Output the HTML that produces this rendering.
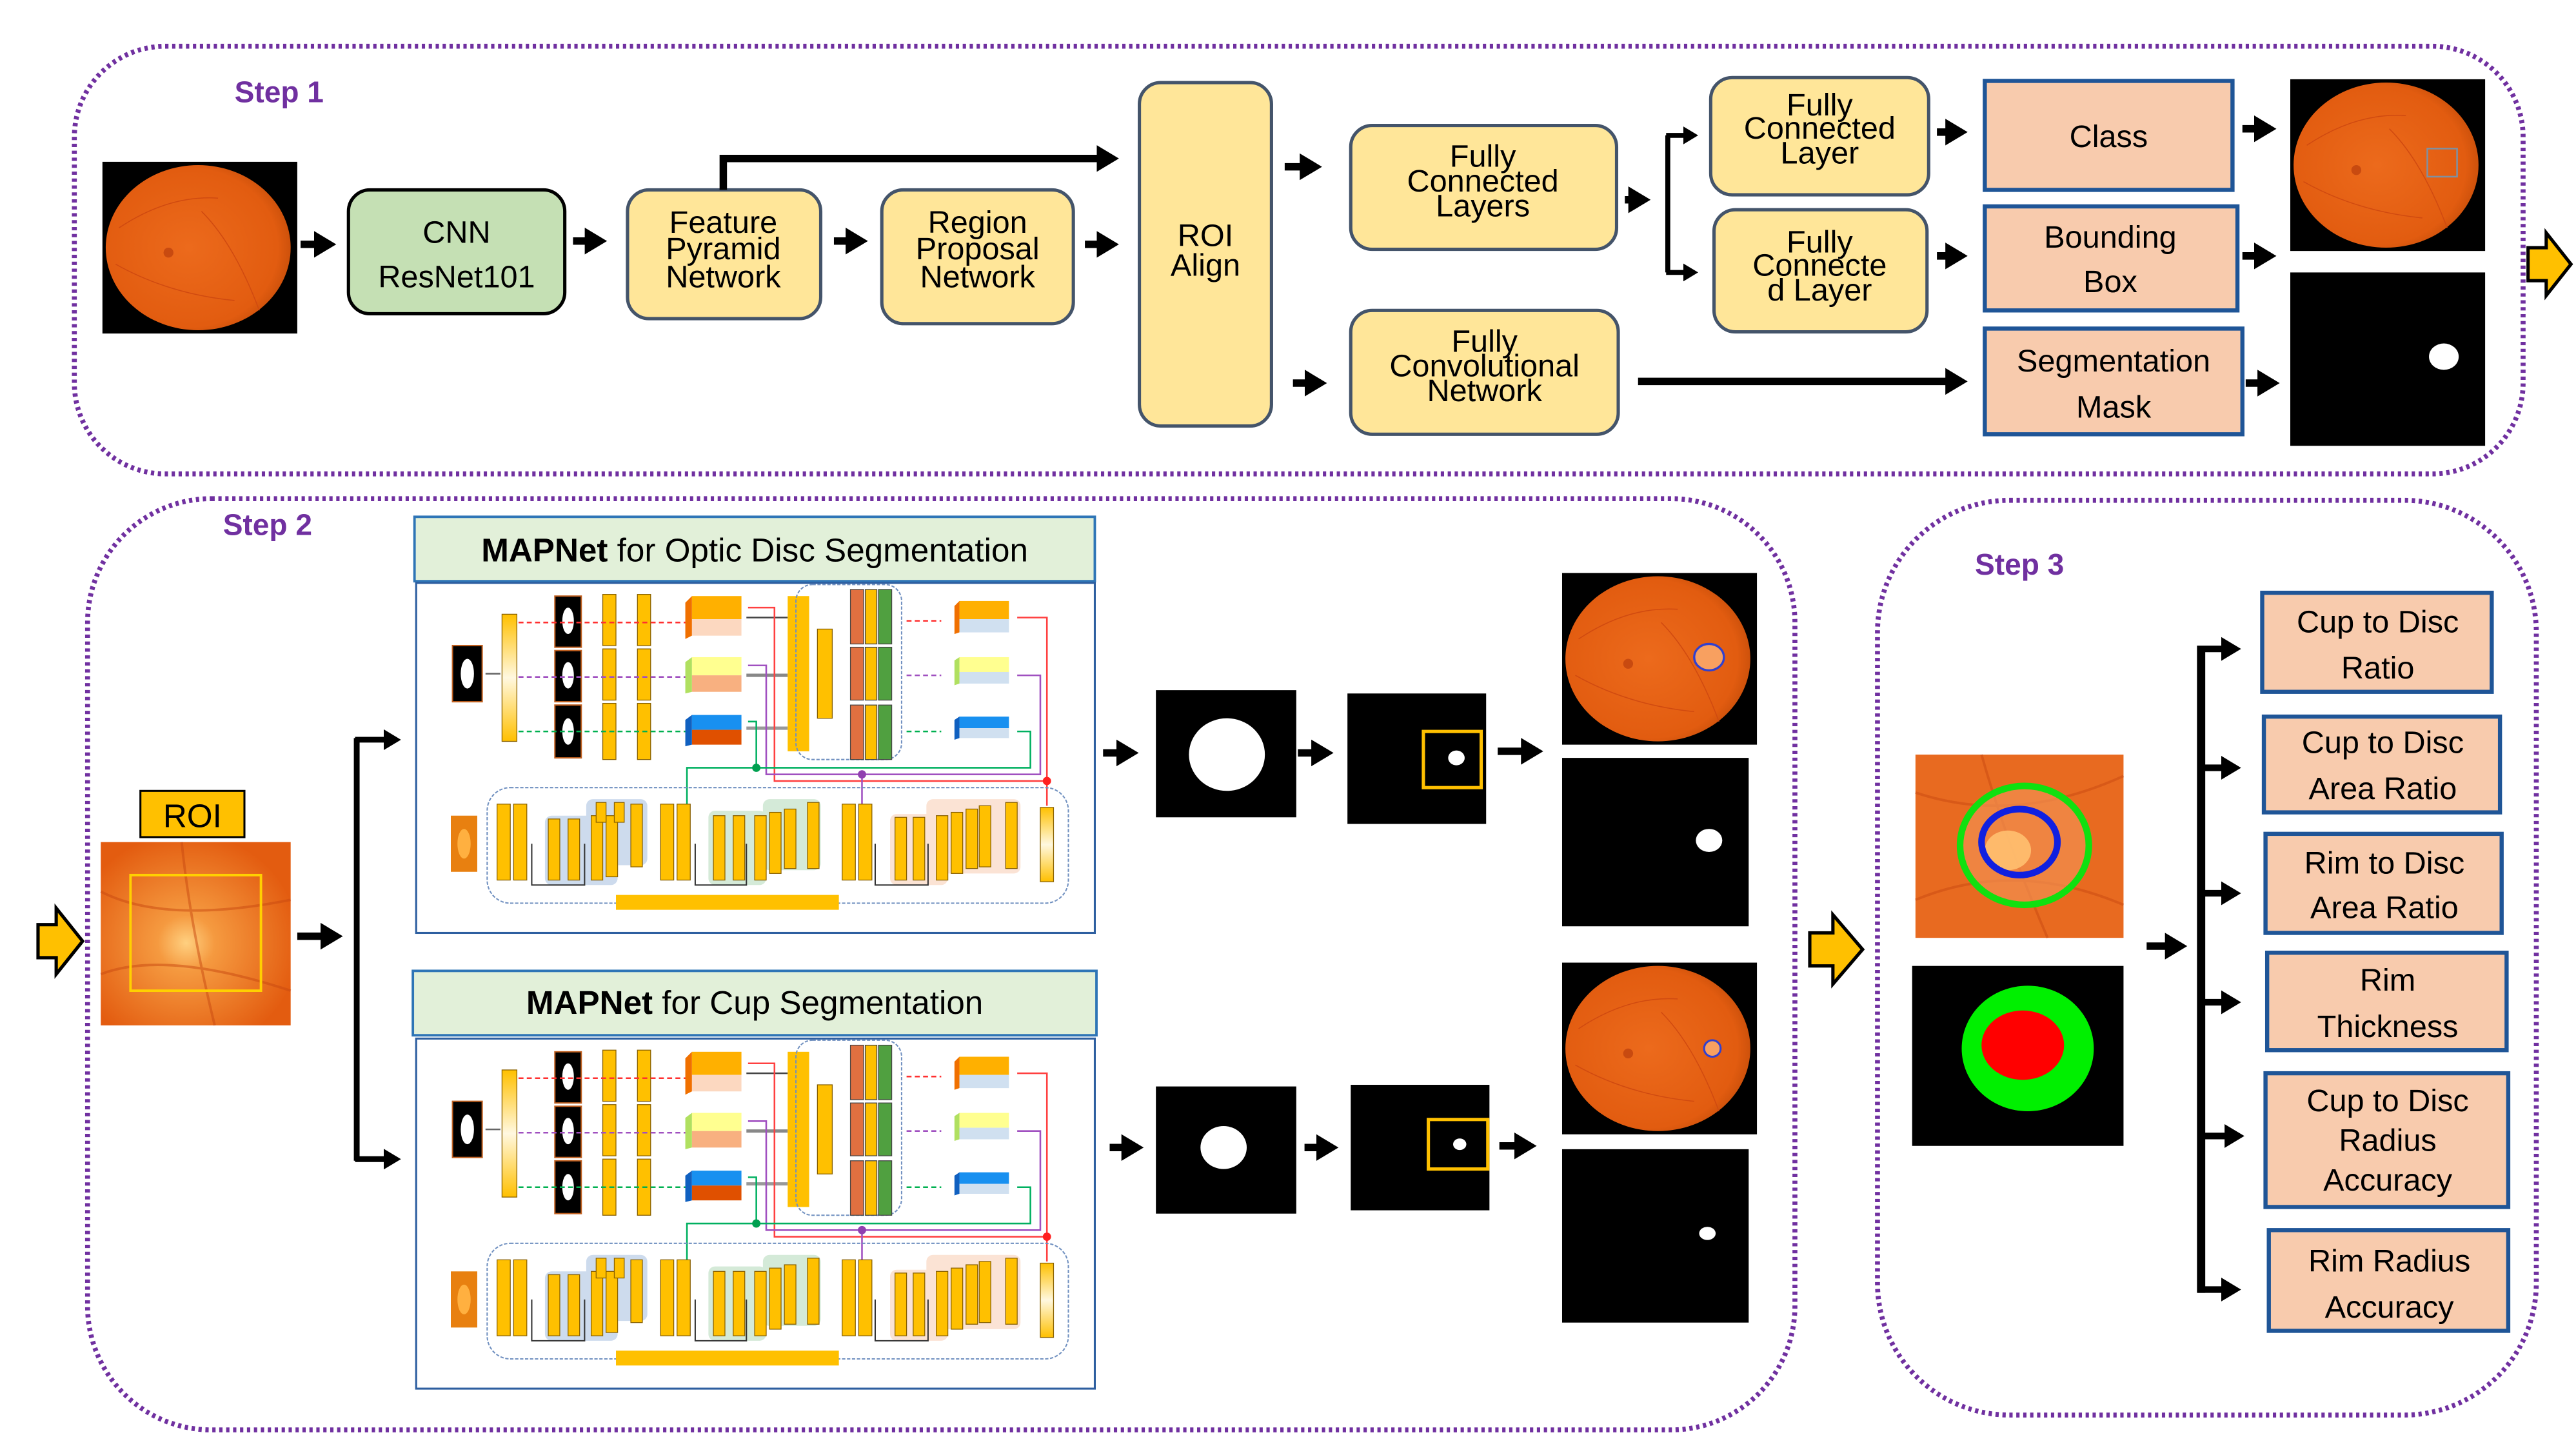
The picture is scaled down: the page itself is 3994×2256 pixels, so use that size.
<!DOCTYPE html>
<html><head><meta charset="utf-8">
<style>
html,body{margin:0;padding:0;background:#fff;}
svg{display:block;}
text{font-family:"Liberation Sans",sans-serif;}
</style></head>
<body>
<svg width="3994" height="2256" viewBox="0 0 1560 881.2" xmlns="http://www.w3.org/2000/svg">
<defs>
<marker id="ah" markerWidth="4" markerHeight="4" refX="2.2" refY="2" orient="auto" markerUnits="strokeWidth">
<path d="M0,0.2 L3,2 L0,3.8 Z" fill="#000"/>
</marker>
<radialGradient id="fund" cx="0.45" cy="0.5" r="0.6">
<stop offset="0" stop-color="#ec6a1c"/><stop offset="0.8" stop-color="#e25c10"/><stop offset="1" stop-color="#c04a08"/>
</radialGradient>
<radialGradient id="roi" cx="0.45" cy="0.55" r="0.6">
<stop offset="0" stop-color="#ffd080"/><stop offset="0.25" stop-color="#f59a40"/><stop offset="1" stop-color="#e35c10"/>
</radialGradient>
<linearGradient id="ybar" x1="0" y1="0" x2="0" y2="1">
<stop offset="0" stop-color="#ffc000"/><stop offset="0.5" stop-color="#fff8e0"/><stop offset="1" stop-color="#ffc000"/>
</linearGradient>
<g id="fundus">
<rect x="0" y="0" width="118" height="104" fill="#000"/>
<ellipse cx="58" cy="52" rx="56" ry="50" fill="url(#fund)"/>
<path d="M10,40 Q40,20 70,22 M8,62 Q40,80 80,84 M60,30 Q80,50 95,90" stroke="#d04a10" stroke-width="0.6" fill="none"/>
<circle cx="40" cy="55" r="3" fill="#c84a10"/>
</g>
<g id="mapnet">
<rect x="0" y="0" width="411" height="212" fill="#fff" stroke="#2e5fa0" stroke-width="1.2"/>
<rect x="22" y="38" width="18" height="34" fill="#000" stroke="#c06020" stroke-width="0.8"/>
<ellipse cx="31" cy="55" rx="4" ry="9" fill="#fff"/>
<line x1="42" y1="55" x2="51" y2="55" stroke="#666" stroke-width="1"/>
<rect x="52" y="19" width="9" height="77" fill="url(#ybar)" stroke="#886000" stroke-width="0.5"/>
<g fill="#000" stroke="#c06020" stroke-width="0.8">
<rect x="84" y="8" width="16" height="31"/><rect x="84" y="41" width="16" height="31"/><rect x="84" y="74" width="16" height="32"/></g>
<g fill="#fff"><ellipse cx="92" cy="23" rx="3.5" ry="8"/><ellipse cx="92" cy="56" rx="3.5" ry="8"/><ellipse cx="92" cy="90" rx="3.5" ry="8"/></g>
<g fill="#ffc000" stroke="#886000" stroke-width="0.5">
<rect x="113" y="7" width="8" height="31"/><rect x="113" y="40" width="8" height="31"/><rect x="113" y="73" width="8" height="34"/>
<rect x="134" y="7" width="8" height="31"/><rect x="134" y="40" width="8" height="31"/><rect x="134" y="73" width="8" height="34"/></g>
<g stroke-width="1" stroke-dasharray="3,2">
<line x1="62" y1="24" x2="165" y2="24" stroke="#ff3030"/>
<line x1="62" y1="57" x2="165" y2="57" stroke="#a050c0"/>
<line x1="62" y1="90" x2="165" y2="90" stroke="#00b050"/></g>
<rect x="167" y="8" width="30" height="14" fill="#ffb000"/><rect x="167" y="22" width="30" height="10" fill="#fcd8c0"/><polygon points="163,12 167,8 167,32 163,34" fill="#f07000"/>
<rect x="167" y="45" width="30" height="11" fill="#ffff90"/><rect x="167" y="56" width="30" height="10" fill="#f8b080"/><polygon points="163,48 167,45 167,66 163,67" fill="#b0e060"/>
<rect x="167" y="80" width="30" height="9" fill="#1890f0"/><rect x="167" y="89" width="30" height="9" fill="#e05000"/><polygon points="163,83 167,80 167,98 163,99" fill="#1060c0"/>
<line x1="200" y1="21" x2="225" y2="21" stroke="#444" stroke-width="1"/>
<line x1="200" y1="56" x2="225" y2="56" stroke="#888" stroke-width="2"/>
<line x1="200" y1="88" x2="225" y2="88" stroke="#999" stroke-width="2"/>
<rect x="225" y="8" width="13" height="94" fill="#ffc000"/>
<rect x="243" y="28" width="9" height="54" fill="#ffc000" stroke="#886000" stroke-width="0.5"/>
<rect x="230" y="1" width="64" height="106" rx="10" fill="none" stroke="#7090c0" stroke-width="0.8" stroke-dasharray="2,1"/>
<g stroke="#444" stroke-width="0.5">
<rect x="263" y="4" width="8" height="33" fill="#e07040"/><rect x="272" y="4" width="7" height="33" fill="#ffc000"/><rect x="280" y="4" width="8" height="33" fill="#50a040"/>
<rect x="263" y="39" width="8" height="32" fill="#e07040"/><rect x="272" y="39" width="7" height="32" fill="#ffc000"/><rect x="280" y="39" width="8" height="32" fill="#50a040"/>
<rect x="263" y="74" width="8" height="33" fill="#e07040"/><rect x="272" y="74" width="7" height="33" fill="#ffc000"/><rect x="280" y="74" width="8" height="33" fill="#50a040"/></g>
<rect x="329" y="11" width="30" height="11" fill="#ffb000"/><rect x="329" y="22" width="30" height="8" fill="#d0e0f0"/><polygon points="326,14 329,11 329,30 326,31" fill="#f07000"/>
<rect x="329" y="45" width="30" height="9" fill="#ffff90"/><rect x="329" y="54" width="30" height="7" fill="#d0e0f0"/><polygon points="326,47 329,45 329,61 326,62" fill="#b0e060"/>
<rect x="329" y="81" width="30" height="7" fill="#1890f0"/><rect x="329" y="88" width="30" height="6" fill="#d0e0f0"/><polygon points="326,83 329,81 329,94 326,95" fill="#1060c0"/>
<g stroke-width="1" stroke-dasharray="3,2">
<line x1="297" y1="23" x2="318" y2="23" stroke="#ff3030"/><line x1="297" y1="56" x2="318" y2="56" stroke="#a050c0"/><line x1="297" y1="90" x2="318" y2="90" stroke="#00b050"/></g>
<polyline points="201,15 217,15 217,120 382,120 382,21 364,21" fill="none" stroke="#ff4040" stroke-width="1"/>
<line x1="382" y1="120" x2="382" y2="135" stroke="#ff4040" stroke-width="1"/>
<circle cx="382" cy="120" r="2.5" fill="#ff2020"/>
<polyline points="201,50 212,50 212,116 378,116 378,56 364,56" fill="none" stroke="#a050c0" stroke-width="1"/>
<line x1="270" y1="116" x2="270" y2="134" stroke="#a050c0" stroke-width="1"/>
<circle cx="270" cy="116" r="2.5" fill="#9040b0"/>
<polyline points="201,84 206,84 206,112 372,112 372,90 364,90" fill="none" stroke="#00b060" stroke-width="1"/>
<polyline points="206,112 164,112 164,134" fill="none" stroke="#00b060" stroke-width="1"/>
<circle cx="206" cy="112" r="2.5" fill="#00a050"/>
<rect x="43" y="124" width="352" height="70" rx="14" fill="none" stroke="#7090c0" stroke-width="0.8" stroke-dasharray="2,1"/>
<rect x="21" y="141" width="16" height="34" fill="#e88010"/><ellipse cx="29" cy="158" rx="4" ry="9" fill="#ffb040"/>
<g opacity="0.9">
<rect x="78" y="141" width="44" height="42" rx="4" fill="#c8d8ec"/><rect x="103" y="131" width="37" height="40" rx="4" fill="#c8d8ec"/>
<rect x="177" y="138" width="35" height="45" rx="4" fill="#d0e8d4"/><rect x="210" y="131" width="35" height="43" rx="4" fill="#d0e8d4"/>
<rect x="287" y="140" width="35" height="43" rx="4" fill="#fbe0d0"/><rect x="309" y="131" width="57" height="45" rx="4" fill="#fbe0d0"/></g>
<g fill="#ffc000" stroke="#886000" stroke-width="0.5">
<rect x="49" y="134" width="8" height="46"/><rect x="59" y="134" width="8" height="46"/>
<rect x="80" y="143" width="7" height="37"/><rect x="92" y="143" width="7" height="37"/><rect x="106" y="141" width="7" height="39"/><rect x="115" y="141" width="7" height="37"/>
<rect x="109" y="133" width="6" height="12"/><rect x="120" y="133" width="6" height="12"/><rect x="130" y="134" width="7" height="38"/>
<rect x="148" y="134" width="8" height="46"/><rect x="158" y="134" width="8" height="46"/>
<rect x="180" y="141" width="7" height="39"/><rect x="192" y="141" width="7" height="39"/><rect x="205" y="141" width="7" height="39"/><rect x="214" y="139" width="7" height="37"/><rect x="223" y="137" width="7" height="36"/><rect x="237" y="133" width="7" height="40"/>
<rect x="258" y="134" width="8" height="46"/><rect x="268" y="134" width="8" height="46"/>
<rect x="290" y="142" width="7" height="38"/><rect x="301" y="142" width="7" height="38"/><rect x="315" y="141" width="7" height="39"/><rect x="324" y="139" width="7" height="37"/><rect x="333" y="137" width="7" height="36"/><rect x="341" y="135" width="7" height="37"/><rect x="357" y="133" width="7" height="40"/></g>
<rect x="378" y="136" width="8" height="45" fill="url(#ybar)" stroke="#886000" stroke-width="0.5"/>
<g stroke="#333" stroke-width="0.8" fill="none">
<polyline points="70,158 70,183 102,183 102,158"/><polyline points="169,158 169,183 200,183 200,158"/><polyline points="278,158 278,183 310,183 310,158"/></g>
<rect x="121" y="189" width="135" height="9" fill="#ffc000"/>
</g>
</defs>

<!-- STEP 1 -->
<rect x="45" y="28" width="1483" height="259" rx="55" fill="none" stroke="#7030a0" stroke-width="3" stroke-dasharray="2,2.2"/>
<text x="142" y="62" font-size="18" font-weight="bold" fill="#7030a0">Step 1</text>
<use href="#fundus" x="62" y="98"/>
<rect x="211" y="115" width="131" height="75" rx="13" fill="#c5e0b4" stroke="#000" stroke-width="2"/>
<text x="276.5" y="147" font-size="19" text-anchor="middle">CNN</text>
<text x="276.5" y="174" font-size="19" text-anchor="middle">ResNet101</text>
<g fill="#ffe699" stroke="#44546a" stroke-width="2">
<rect x="380" y="115" width="117" height="78" rx="13"/>
<rect x="534" y="115" width="116" height="81" rx="13"/>
<rect x="690" y="50" width="80" height="208" rx="13"/>
<rect x="818" y="76" width="161" height="75" rx="13"/>
<rect x="818" y="188" width="162" height="75" rx="13"/>
<rect x="1036" y="47" width="132" height="71" rx="13"/>
<rect x="1038" y="127" width="129" height="74" rx="13"/>
</g>
<g font-size="19" text-anchor="middle">
<text x="438" y="141">Feature</text><text x="438" y="157">Pyramid</text><text x="438" y="174">Network</text>
<text x="592" y="141">Region</text><text x="592" y="157">Proposal</text><text x="592" y="174">Network</text>
<text x="730" y="149">ROI</text><text x="730" y="167">Align</text>
<text x="898" y="101">Fully</text><text x="898" y="116">Connected</text><text x="898" y="131">Layers</text>
<text x="899" y="213">Fully</text><text x="899" y="228">Convolutional</text><text x="899" y="243">Network</text>
<text x="1102" y="70">Fully</text><text x="1102" y="84">Connected</text><text x="1102" y="99">Layer</text>
<text x="1102" y="153">Fully</text><text x="1102" y="167">Connecte</text><text x="1102" y="182">d Layer</text>
</g>
<g fill="#f8cbad" stroke="#1f5597" stroke-width="2.5">
<rect x="1202" y="49" width="150" height="66"/>
<rect x="1202" y="125" width="153" height="63"/>
<rect x="1202" y="199" width="156" height="64"/>
</g>
<g font-size="19" text-anchor="middle">
<text x="1277" y="89">Class</text>
<text x="1278" y="150">Bounding</text><text x="1278" y="177">Box</text>
<text x="1280" y="225">Segmentation</text><text x="1280" y="253">Mask</text>
</g>
<use href="#fundus" x="1387" y="48"/>
<rect x="1470" y="90" width="18" height="17" fill="none" stroke="#8090a0" stroke-width="1"/>
<rect x="1387" y="165" width="118" height="105" fill="#000"/>
<ellipse cx="1480" cy="216" rx="9" ry="8" fill="#fff"/>
<g stroke="#000" stroke-width="4.5" fill="none" marker-end="url(#ah)">
<line x1="182" y1="148" x2="200" y2="148"/>
<line x1="347" y1="146" x2="364" y2="146"/>
<line x1="505" y1="146" x2="522" y2="146"/>
<line x1="657" y1="148" x2="674" y2="148"/>
<polyline points="438,115 438,96 674,96"/>
<line x1="778" y1="101" x2="797" y2="101"/>
<line x1="783" y1="232" x2="800" y2="232"/>
<line x1="984" y1="121" x2="996" y2="121"/>
<line x1="1173" y1="80" x2="1188" y2="80"/>
<line x1="1173" y1="155" x2="1188" y2="155"/>
<line x1="992" y1="231" x2="1188" y2="231"/>
<line x1="1358" y1="78" x2="1375" y2="78"/>
<line x1="1358" y1="155" x2="1375" y2="155"/>
<line x1="1360" y1="232" x2="1377" y2="232"/>
</g>
<line x1="1010" y1="82" x2="1010" y2="165" stroke="#000" stroke-width="3"/>
<g stroke="#000" stroke-width="3" marker-end="url(#ah)">
<line x1="1009" y1="82" x2="1026" y2="82"/><line x1="1009" y1="165" x2="1026" y2="165"/></g>
<polygon points="1531,150 1542,150 1542,141 1557,160 1542,179 1542,170 1531,170" fill="#ffc000" stroke="#000" stroke-width="2"/>

<!-- STEP 2 -->
<rect x="53" y="302" width="1034" height="564" rx="75" fill="none" stroke="#7030a0" stroke-width="3" stroke-dasharray="2,2.2"/>
<text x="135" y="324" font-size="18" font-weight="bold" fill="#7030a0">Step 2</text>
<rect x="251" y="313" width="412" height="39" fill="#e2f0d9" stroke="#2e75b6" stroke-width="1.5"/>
<text x="457" y="340" font-size="20" text-anchor="middle"><tspan font-weight="bold">MAPNet</tspan> for Optic Disc Segmentation</text>
<use href="#mapnet" x="252" y="353"/>
<rect x="250" y="588" width="414" height="39" fill="#e2f0d9" stroke="#2e75b6" stroke-width="1.5"/>
<text x="457" y="614" font-size="20" text-anchor="middle"><tspan font-weight="bold">MAPNet</tspan> for Cup Segmentation</text>
<use href="#mapnet" x="252" y="629"/>
<polygon points="23,560 34,560 34,550 50,570 34,590 34,580 23,580" fill="#ffc000" stroke="#000" stroke-width="2"/>
<rect x="85" y="479" width="63" height="28" fill="#ffc000" stroke="#000" stroke-width="1.2"/>
<text x="116.5" y="501" font-size="20" text-anchor="middle">ROI</text>
<rect x="61" y="510" width="115" height="111" fill="url(#roi)"/>
<path d="M61,540 Q100,560 176,545 M110,510 Q115,560 130,621 M61,590 Q100,575 176,600" stroke="#c84810" stroke-width="1.5" fill="none" opacity="0.5"/>
<rect x="79" y="530" width="79" height="70" fill="none" stroke="#ffd000" stroke-width="1.5"/>
<g stroke="#000" stroke-width="4.5" fill="none" marker-end="url(#ah)">
<line x1="180" y1="567" x2="204" y2="567"/>
<line x1="668" y1="456" x2="686" y2="456"/>
<line x1="786" y1="456" x2="804" y2="456"/>
<line x1="907" y1="455" x2="931" y2="455"/>
<line x1="672" y1="695" x2="689" y2="695"/>
<line x1="790" y1="695" x2="807" y2="695"/>
<line x1="908" y1="694" x2="927" y2="694"/>
</g>
<line x1="216" y1="447" x2="216" y2="703" stroke="#000" stroke-width="3.5"/>
<g stroke="#000" stroke-width="3.5" marker-end="url(#ah)">
<line x1="215" y1="448" x2="240" y2="448"/><line x1="215" y1="702" x2="240" y2="702"/></g>
<rect x="700" y="418" width="85" height="77" fill="#000"/>
<ellipse cx="743" cy="457" rx="23" ry="22" fill="#fff"/>
<rect x="816" y="420" width="84" height="79" fill="#000"/>
<rect x="862" y="443" width="35" height="34" fill="none" stroke="#ffc000" stroke-width="2"/>
<ellipse cx="882" cy="459" rx="5" ry="4.5" fill="#fff"/>
<use href="#fundus" x="946" y="347"/>
<ellipse cx="1035" cy="398" rx="9" ry="8" fill="#f8a060" stroke="#3040d0" stroke-width="1.3"/>
<rect x="946" y="459" width="113" height="102" fill="#000"/>
<ellipse cx="1035" cy="509" rx="8" ry="7" fill="#fff"/>
<rect x="700" y="658" width="85" height="77" fill="#000"/>
<ellipse cx="741" cy="695" rx="14" ry="13" fill="#fff"/>
<rect x="818" y="657" width="84" height="76" fill="#000"/>
<rect x="865" y="678" width="36" height="30" fill="none" stroke="#ffc000" stroke-width="2"/>
<ellipse cx="884" cy="693" rx="4" ry="3.5" fill="#fff"/>
<use href="#fundus" x="946" y="583"/>
<ellipse cx="1037" cy="635" rx="5" ry="5" fill="#f8a060" stroke="#3040d0" stroke-width="1.2"/>
<rect x="946" y="696" width="113" height="105" fill="#000"/>
<ellipse cx="1034" cy="747" rx="5" ry="4" fill="#fff"/>

<!-- STEP 3 -->
<rect x="1137" y="303" width="399" height="554" rx="80" fill="none" stroke="#7030a0" stroke-width="3" stroke-dasharray="2,2.2"/>
<text x="1196" y="348" font-size="18" font-weight="bold" fill="#7030a0">Step 3</text>
<polygon points="1096,565 1110,565 1110,554 1128,575 1110,596 1110,585 1096,585" fill="#ffc000" stroke="#000" stroke-width="2"/>
<rect x="1160" y="457" width="126" height="111" fill="#e86a20"/>
<path d="M1160,480 Q1220,500 1286,470 M1200,457 Q1215,510 1240,568 M1160,545 Q1220,520 1286,548" stroke="#c84810" stroke-width="1.5" fill="none" opacity="0.5"/>
<ellipse cx="1226" cy="512" rx="39" ry="36" fill="#f29050" opacity="0.7"/>
<ellipse cx="1216" cy="515" rx="14" ry="12" fill="#ffc070" opacity="0.9"/>
<ellipse cx="1226" cy="512" rx="39" ry="36" fill="none" stroke="#10e010" stroke-width="4"/>
<ellipse cx="1223" cy="510" rx="23" ry="20" fill="none" stroke="#1020e0" stroke-width="4"/>
<rect x="1158" y="585" width="128" height="109" fill="#000"/>
<ellipse cx="1228" cy="635" rx="40" ry="38" fill="#00f000"/>
<ellipse cx="1225" cy="633" rx="25" ry="21" fill="#ff0000"/>
<g stroke="#000" stroke-width="4.5" fill="none" marker-end="url(#ah)">
<line x1="1300" y1="573" x2="1321" y2="573"/></g>
<line x1="1333" y1="391" x2="1333" y2="783" stroke="#000" stroke-width="5"/>
<g stroke="#000" stroke-width="4" marker-end="url(#ah)">
<line x1="1331" y1="393" x2="1354" y2="393"/><line x1="1331" y1="465" x2="1354" y2="465"/>
<line x1="1331" y1="541" x2="1354" y2="541"/><line x1="1331" y1="607" x2="1354" y2="607"/>
<line x1="1331" y1="688" x2="1356" y2="688"/><line x1="1331" y1="781" x2="1354" y2="781"/></g>
<g fill="#f8cbad" stroke="#1f5597" stroke-width="2.5">
<rect x="1370" y="359" width="139" height="60"/>
<rect x="1371" y="434" width="143" height="58"/>
<rect x="1372" y="505" width="143" height="60"/>
<rect x="1373" y="577" width="145" height="59"/>
<rect x="1372" y="650" width="147" height="81"/>
<rect x="1374" y="745" width="145" height="61"/>
</g>
<g font-size="19" text-anchor="middle">
<text x="1440" y="383">Cup to Disc</text><text x="1440" y="411">Ratio</text>
<text x="1443" y="456">Cup to Disc</text><text x="1443" y="484">Area Ratio</text>
<text x="1444" y="529">Rim to Disc</text><text x="1444" y="556">Area Ratio</text>
<text x="1446" y="600">Rim</text><text x="1446" y="628">Thickness</text>
<text x="1446" y="673">Cup to Disc</text><text x="1446" y="697">Radius</text><text x="1446" y="721">Accuracy</text>
<text x="1447" y="770">Rim Radius</text><text x="1447" y="798">Accuracy</text>
</g>
</svg>
</body></html>
